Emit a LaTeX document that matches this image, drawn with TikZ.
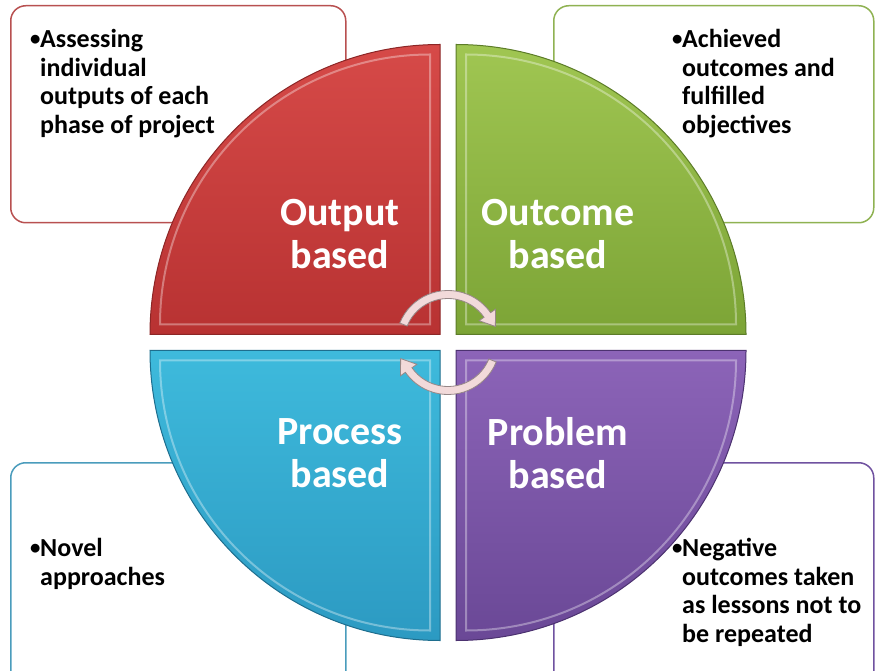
\documentclass[tikz,border=0pt]{standalone}
\usepackage{fontspec}
\setmainfont{Carlito}
\usetikzlibrary{calc}

\definecolor{outputtop}{RGB}{214,74,72}
\definecolor{outputbottom}{RGB}{184,50,50}
\definecolor{outputedge}{RGB}{140,38,38}
\definecolor{outputline}{RGB}{184,80,80}
\definecolor{outcometop}{RGB}{160,198,82}
\definecolor{outcomebottom}{RGB}{124,164,54}
\definecolor{outcomeedge}{RGB}{92,124,40}
\definecolor{outcomeline}{RGB}{143,178,82}
\definecolor{processtop}{RGB}{62,186,220}
\definecolor{processbottom}{RGB}{44,154,194}
\definecolor{processedge}{RGB}{30,110,142}
\definecolor{processline}{RGB}{74,156,188}
\definecolor{problemtop}{RGB}{140,100,184}
\definecolor{problembottom}{RGB}{106,72,150}
\definecolor{problemedge}{RGB}{76,50,112}
\definecolor{problemline}{RGB}{112,82,160}
\definecolor{arrowpink}{RGB}{242,218,218}
\definecolor{arrowgray}{RGB}{150,135,135}

\tikzset{
  infobox/.style={draw, line width=1.5pt, rounded corners=15pt, fill=white,
    anchor=north west, inner sep=0pt},
  bullettext/.style={anchor=north west, inner sep=0pt,
    font=\fontsize{26}{28.8}\selectfont\bfseries},
  quadlabel/.style={text=white, align=center, inner sep=0pt,
    font=\fontsize{40}{43}\selectfont\bfseries},
  quadrant/.style={line width=1pt},
  bevel/.style={white, opacity=0.35, line width=2pt},
  cyclearrow/.style={fill=arrowpink, draw=arrowgray, line width=0.8pt}
}

\newcommand{\bulletlist}[1]{\begin{tabular}{@{}l@{}l@{}}\makebox[10pt][l]{\raisebox{1.8pt}{\scalebox{0.8}{\textbullet}}} & #1\end{tabular}}

\begin{document}
\begin{tikzpicture}[x=1pt,y=1pt]

\clip (0,0) rectangle (875,670);

% Boxes
\node[infobox, draw=outputline, minimum width=335pt, minimum height=217pt]
  (outputbox) at (10,665) {};
\node[infobox, draw=outcomeline, minimum width=320pt, minimum height=217pt]
  (outcomebox) at (553,665) {};
\node[infobox, draw=processline, minimum width=335pt, minimum height=230pt]
  (processbox) at (10,208) {};
\node[infobox, draw=problemline, minimum width=320pt, minimum height=230pt]
  (problembox) at (553,208) {};

% Quadrants
\coordinate (c) at (448,327.5);

\draw[quadrant, draw=outputedge, top color=outputtop, bottom color=outputbottom]
  (440,335.5) -- (440,625.5) arc[start angle=90, end angle=180, radius=290] -- cycle;
\draw[bevel] (430,345.5) -- (430,615.5) arc[start angle=90, end angle=180, radius=270] -- cycle;

\draw[quadrant, draw=outcomeedge, top color=outcometop, bottom color=outcomebottom]
  (456,335.5) -- (456,625.5) arc[start angle=90, end angle=0, radius=290] -- cycle;
\draw[bevel] (466,345.5) -- (466,615.5) arc[start angle=90, end angle=0, radius=270] -- cycle;

\draw[quadrant, draw=processedge, top color=processtop, bottom color=processbottom]
  (440,319.5) -- (440,29.5) arc[start angle=270, end angle=180, radius=290] -- cycle;
\draw[bevel] (430,309.5) -- (430,39.5) arc[start angle=270, end angle=180, radius=270] -- cycle;

\draw[quadrant, draw=problemedge, top color=problemtop, bottom color=problembottom]
  (456,319.5) -- (456,29.5) arc[start angle=270, end angle=360, radius=290] -- cycle;
\draw[bevel] (466,309.5) -- (466,39.5) arc[start angle=270, end angle=360, radius=270] -- cycle;

% Labels
\node[quadlabel] (outputlabel) at (340,436) {Output\\based};
\node[quadlabel] (outcomelabel) at (558,436) {Outcome\\based};
\node[quadlabel] (processlabel) at (340,217) {Process\\based};
\node[quadlabel] (problemlabel) at (558,217) {Problem\\based};

% Cycle arrows
\draw[cyclearrow] ($(c)+(158:52)$) arc[start angle=158, end angle=35, radius=52]
  -- ($(c)+(35:58)$) -- ($(c)+(35:48)+(-55:14)$) -- ($(c)+(35:38)$)
  -- ($(c)+(35:44)$) arc[start angle=35, end angle=158, radius=44] -- cycle;
\draw[cyclearrow] ($(c)+(338:52)$) arc[start angle=338, end angle=215, radius=52]
  -- ($(c)+(215:58)$) -- ($(c)+(215:48)+(125:14)$) -- ($(c)+(215:38)$)
  -- ($(c)+(215:44)$) arc[start angle=215, end angle=338, radius=44] -- cycle;

% Texts
\node[bullettext] (outputtext) at (30,643)
  {\bulletlist{Assessing\\ & individual\\ & outputs of each\\ & phase of project}};
\node[bullettext] (outcometext) at (672,643)
  {\bulletlist{Achieved\\ & outcomes and\\ & fulfilled\\ & objectives}};
\node[bullettext] (processtext) at (30,134)
  {\bulletlist{Novel\\ & approaches}};
\node[bullettext] (problemtext) at (672,134)
  {\bulletlist{Negative\\ & outcomes taken\\ & as lessons not to\\ & be repeated}};

\end{tikzpicture}
\end{document}
